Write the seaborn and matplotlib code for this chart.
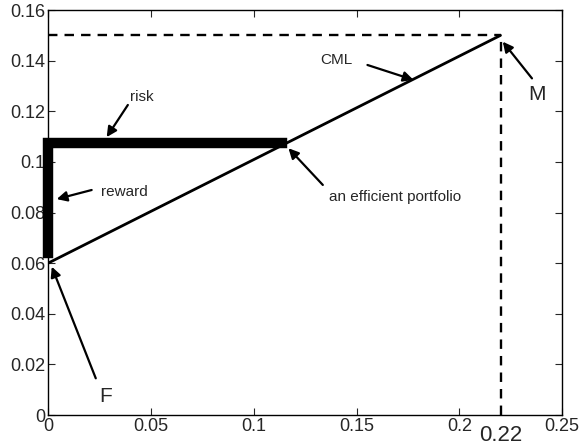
import matplotlib
matplotlib.use("Agg")
import numpy as np
import pandas as pd
import seaborn as sns
from matplotlib import pyplot as plt

# capital market line: risk-free F to market portfolio M
cml_sigma = [0.0, 0.22]
cml_return = [0.06, 0.15]

# guide lines to M
guide_h_x = [0.0, 0.22]
guide_h_y = [0.15, 0.15]
guide_v_x = [0.22, 0.22]
guide_v_y = [0.0, 0.15]

# thick risk / reward bars for the efficient portfolio
bar_x = [0.1137, 0.0, 0.0]
bar_y = [0.1075, 0.1075, 0.064]

x_ticks = [0, 0.05, 0.1, 0.15, 0.2, 0.25]
x_tick_labels = ["0", "0.05", "0.1", "0.15", "0.2", "0.25"]
y_ticks = [0, 0.02, 0.04, 0.06, 0.08, 0.1, 0.12, 0.14, 0.16]
y_tick_labels = ["0", "0.02", "0.04", "0.06", "0.08", "0.1", "0.12", "0.14", "0.16"]

# (label, text x, text y, ha, arrow tail, arrow tip, fontsize)
notes = [
    ("risk", 0.0456, 0.1258, "center", (0.0388, 0.1225), (0.0285, 0.1098), 11),
    ("reward", 0.0258, 0.0882, "left", (0.0212, 0.0889), (0.0042, 0.0853), 11),
    ("CML", 0.1404, 0.1403, "center", (0.1553, 0.1383), (0.1777, 0.1324), 11),
    ("an efficient portfolio", 0.1688, 0.0863, "center", (0.1336, 0.0909), (0.1169, 0.1054), 11),
    ("M", 0.2377, 0.1267, "center", (0.2353, 0.1330), (0.2211, 0.1475), 15),
    ("F", 0.0282, 0.0075, "center", (0.0232, 0.0145), (0.0018, 0.0586), 15),
]

sns.set_style("ticks")
plt.rcParams["font.family"] = ["Liberation Sans", "DejaVu Sans"]

fig = plt.figure(figsize=(5.79, 4.45), dpi=100)
ax = fig.add_axes([0.083, 0.0674, 0.888, 0.910])

sns.lineplot(x=guide_h_x, y=guide_h_y, ax=ax, color="black", lw=1.7,
             linestyle=(0, (4, 3)))
sns.lineplot(x=guide_v_x, y=guide_v_y, ax=ax, color="black", lw=1.7, sort=False,
             estimator=None, linestyle=(0, (4, 3)))
sns.lineplot(x=cml_sigma, y=cml_return, ax=ax, color="black", lw=2.0)
sns.lineplot(x=bar_x, y=bar_y, ax=ax, color="black", lw=7.5, sort=False,
             estimator=None)
bar_line = ax.lines[-1]
bar_line.set_solid_capstyle("projecting")
bar_line.set_solid_joinstyle("miter")
bar_line.set_clip_on(False)

for label, tx, ty, ha, tail, tip, fs in notes:
    ax.annotate("", xy=tip, xytext=tail,
                arrowprops=dict(arrowstyle="-|>", color="black", lw=1.6,
                                mutation_scale=15, shrinkA=0, shrinkB=0))
    ax.text(tx, ty, label, ha=ha, va="center", fontsize=fs)

ax.text(0.22, -0.0081, "0.22", ha="center", va="center", fontsize=16, clip_on=False)

ax.set_xlim(0, 0.25)
ax.set_ylim(0, 0.16)
ax.set_xticks(x_ticks)
ax.set_xticklabels(x_tick_labels, fontsize=13)
ax.set_yticks(y_ticks)
ax.set_yticklabels(y_tick_labels, fontsize=13)
ax.tick_params(direction="in", length=5, width=0.8, top=True, right=True, pad=2)
for spine in ax.spines.values():
    spine.set_visible(True)
    spine.set_linewidth(1.0)
    spine.set_color("black")

fig.savefig("out.png", dpi=100)
